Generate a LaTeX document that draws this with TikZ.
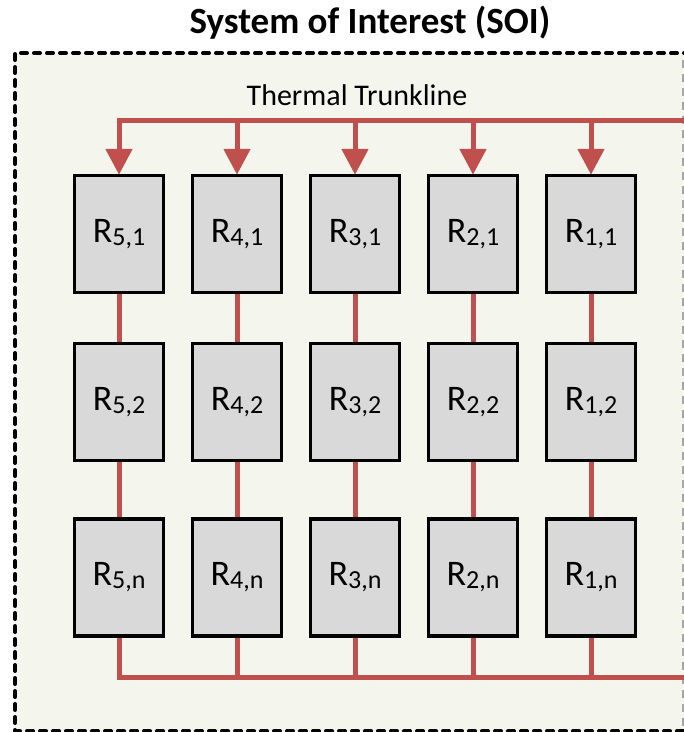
\documentclass[tikz,border=0pt]{standalone}
\usepackage{fontspec}
\setmainfont{Carlito}
\usetikzlibrary{arrows.meta}
\definecolor{framefill}{HTML}{F4F6EE}
\definecolor{boxfill}{HTML}{D9D9D9}
\definecolor{trunk}{HTML}{C0504D}
\newcommand{\Rlab}[1]{{\fontsize{36}{36}\selectfont R\raisebox{-3pt}{\fontsize{26}{26}\selectfont #1}}}
\begin{document}
\begin{tikzpicture}[x=1pt,y=-1pt,
  rbox/.style={draw=black,line width=2.4pt,fill=boxfill,minimum width=88pt,minimum height=116pt,inner sep=0pt},
  pipe/.style={draw=trunk,line width=5pt},
  feed/.style={pipe,-{Triangle[width=26pt,length=26pt]}}]
\useasboundingbox (0,0) rectangle (684,732);
% frame
\fill[framefill] (15,53) rectangle (690,731);
\draw[line width=4pt,dash pattern=on 6pt off 7pt,line cap=round] (690,53) -- (15,53) -- (15,731) -- (690,731);
\draw[gray!70,line width=1.5pt,dash pattern=on 8pt off 6pt] (683,60) -- (683,726);
% titles
\node[font=\fontsize{37}{37}\selectfont\bfseries] (title) at (370,23) {System of Interest (SOI)};
\node[font=\fontsize{30}{30}\selectfont] (trunk) at (357,95) {Thermal Trunkline};
% boxes
\foreach \i/\x in {5/119,4/237,3/355,2/473,1/591}{
  \node[rbox] (b\i1) at (\x,234) {\Rlab{\i,1}};
  \node[rbox] (b\i2) at (\x,402) {\Rlab{\i,2}};
  \node[rbox] (b\i3) at (\x,577.5) {\Rlab{\i,n}};
}
% trunk lines
\coordinate (tin) at (684,120);
\coordinate (tout) at (684,677);
\draw[pipe,line join=miter] (tin) -- (b51.north |- tin) -- ++(0,4);
\draw[pipe] (tout) -- (b51.south |- tout) -- ++(0,-1);
\foreach \i in {5,4,3,2,1}{
  \draw[feed] (b\i1.north |- tin) -- (b\i1.north);
  \draw[pipe] (b\i1.south) -- (b\i2.north);
  \draw[pipe] (b\i2.south) -- (b\i3.north);
  \draw[pipe] (b\i3.south) -- (b\i3.south |- tout);
}
% redraw box borders over pipes
\foreach \i in {5,4,3,2,1}{
  \foreach \r in {1,2,3}{
    \draw[line width=2.4pt] (b\i\r.south west) rectangle (b\i\r.north east);
  }
}
\end{tikzpicture}
\end{document}
